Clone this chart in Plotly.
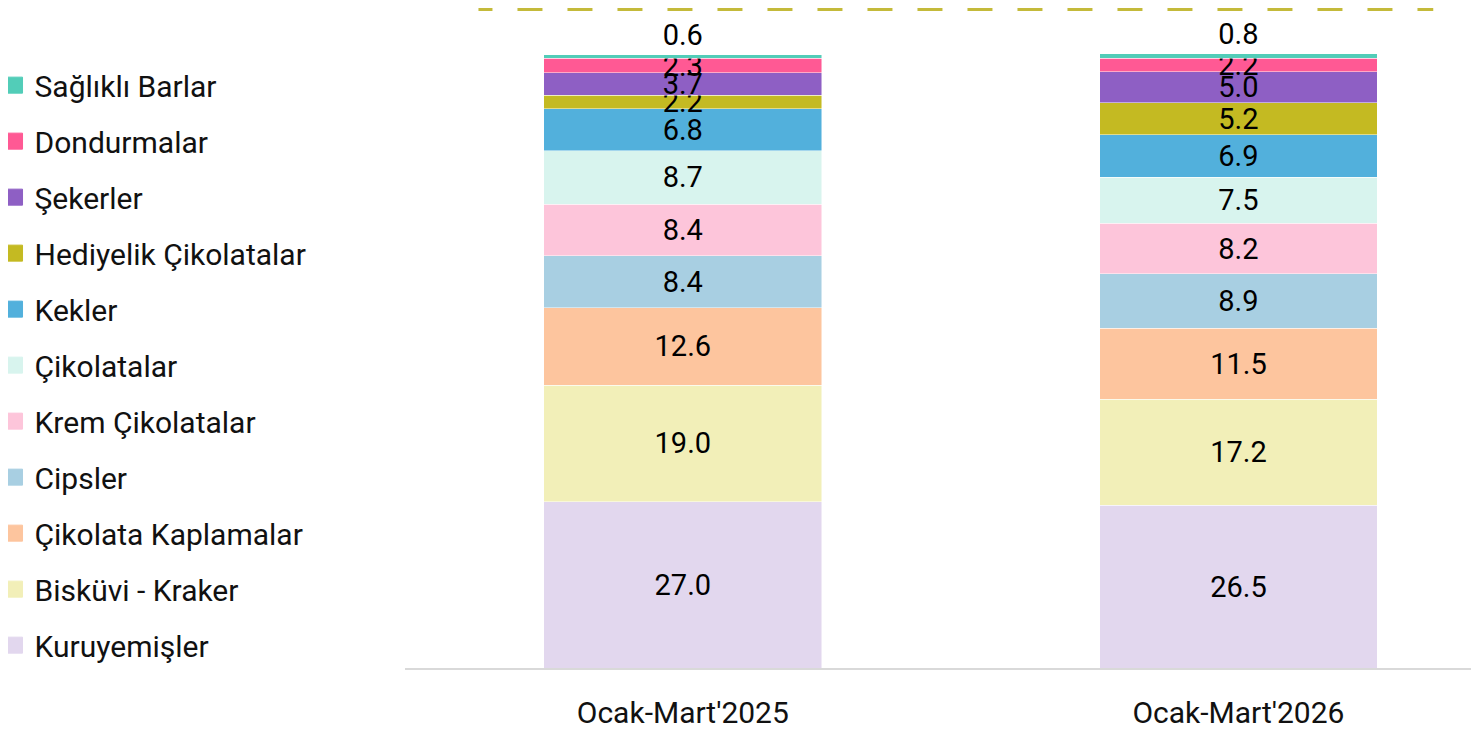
import plotly.graph_objects as go

periods = ["Ocak-Mart'2025", "Ocak-Mart'2026"]
categories = ["Kuruyemişler", "Bisküvi - Kraker", "Çikolata Kaplamalar", "Cipsler",
              "Krem Çikolatalar", "Çikolatalar", "Kekler", "Hediyelik Çikolatalar",
              "Şekerler", "Dondurmalar", "Sağlıklı Barlar"]
values_2025 = [27.0, 19.0, 12.6, 8.4, 8.4, 8.7, 6.8, 2.2, 3.7, 2.3, 0.6]
values_2026 = [26.5, 17.2, 11.5, 8.9, 8.2, 7.5, 6.9, 5.2, 5.0, 2.2, 0.8]
colors = ["#E2D7EE", "#F2EFB8", "#FDC59E", "#A8CFE2", "#FDC5DA", "#D8F4EE",
          "#52B0DC", "#C4BA22", "#8E5FC4", "#FF5994", "#52CDB8"]

FONT = "Roboto"
fig = go.Figure()
n = len(categories)
for i, cat in enumerate(categories):
    vals = [values_2025[i], values_2026[i]]
    top = (i == n - 1)
    fig.add_trace(go.Bar(
        x=periods, y=vals, name=cat, showlegend=False,
        marker=dict(color=colors[i], line=dict(color="rgba(255,255,255,0.6)", width=0.8)),
        text=[f"{v:.1f}" for v in vals],
        textposition="outside" if top else "inside",
        insidetextanchor="middle", constraintext="none", cliponaxis=False,
        textfont=dict(family=FONT, size=29, color="#000000"),
        width=0.5, hoverinfo="skip",
    ))

# legend entries (top of the stack listed first), with larger square swatches
for i in reversed(range(n)):
    fig.add_trace(go.Scatter(
        x=[None], y=[None], mode="markers", name=categories[i], legendgroup=categories[i],
        marker=dict(symbol="square", size=16, color=colors[i],
                    line=dict(color=colors[i], width=1)),
        hoverinfo="skip",
    ))

x0, x1 = 0.0698, 0.956
yb = 1 - 1.5 / 660
ys = 1 + 11 / 660
fig.add_shape(type="path", xref="paper", yref="paper",
              path=f"M {x0},{ys} V {yb} H {x1} V 1.3",
              line=dict(color="#C4BA3A", width=3, dash="25px,25px"))

fig.update_layout(
    barmode="stack",
    width=1471, height=721,
    margin=dict(l=397, r=0, t=0, b=61, autoexpand=False),
    paper_bgcolor="white", plot_bgcolor="white",
    font=dict(family=FONT, size=30, color="#000000"),
    uniformtext=dict(minsize=29, mode="show"),
    showlegend=True,
    legend=dict(x=-0.3822, xanchor="left", y=0.9225, yanchor="top",
                traceorder="grouped", tracegroupgap=14,
                font=dict(family=FONT, size=30, color="#111111"),
                bgcolor="rgba(0,0,0,0)"),
    xaxis=dict(range=[-0.5, 1.433], showline=True, linecolor="#D9D9D9", linewidth=1.5,
               showgrid=False, ticks="", ticklabelstandoff=17,
               tickfont=dict(family=FONT, size=30, color="#111111")),
    yaxis=dict(range=[0, 107.3], visible=False, showgrid=False),
)

fig.write_html("out.html")
